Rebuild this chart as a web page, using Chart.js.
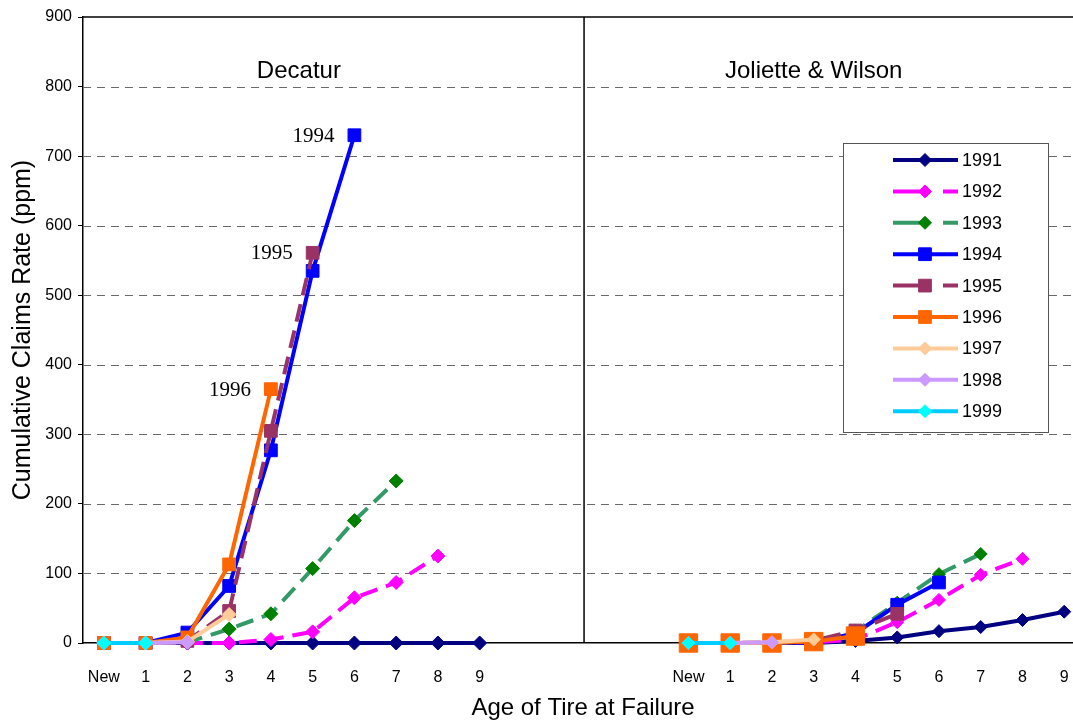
<!DOCTYPE html>
<html>
<head>
<meta charset="utf-8">
<script src="https://cdn.jsdelivr.net/npm/chart.js@4.4.0/dist/chart.umd.min.js"></script>
<style>
  html, body { margin: 0; padding: 0; background: #fff; overflow: hidden; }
  #wrap { width: 1073px; height: 725px; }
</style>
</head>
<body>
<div id="wrap"><canvas id="chart"></canvas></div>
<script>
// ================================
//            DATA
// ================================
const ages = ["New", "1", "2", "3", "4", "5", "6", "7", "8", "9"];
const years = ["1991", "1992", "1993", "1994", "1995", "1996", "1997", "1998", "1999"];
const panels = ["Decatur", "Joliette & Wilson"];
const yTicks = [0, 100, 200, 300, 400, 500, 600, 700, 800, 900];

// Decatur, cumulative claims (ppm) by age
const dec1991 = [0, 0, 0, 0, 0, 0, 0, 0, 0, 0];
const dec1992 = [0, 0, 0, 0, 5, 16, 65, 87, 125];
const dec1993 = [0, 0, 1, 20, 42, 107, 176, 233];
const dec1994 = [0, 0, 15, 82, 277, 535, 730];
const dec1995 = [0, 0, 3, 46, 305, 561];
const dec1996 = [0, 0, 8, 113, 365];
const dec1997 = [0, 0, 2, 41];
const dec1998 = [0, 0, 1];
const dec1999 = [0, 0];

// Joliette & Wilson
const jw1991 = [0, 0, 0, 0, 3, 8, 17, 23, 33, 45];
const jw1992 = [0, 0, 0, 1, 5, 30, 62, 98, 121];
const jw1993 = [0, 0, 0, 2, 17, 58, 99, 128];
const jw1994 = [0, 0, 0, 1, 14, 55, 87];
const jw1995 = [0, 0, 1, 3, 18, 42];
const jw1996 = [0, 0, 0, 2, 10];
const jw1997 = [0, 0, 1, 5];
const jw1998 = [0, 0, 1];
const jw1999 = [0, 0];

const decatur = [dec1991, dec1992, dec1993, dec1994, dec1995, dec1996, dec1997, dec1998, dec1999];
const joliette = [jw1991, jw1992, jw1993, jw1994, jw1995, jw1996, jw1997, jw1998, jw1999];

// ================================
//            STYLES
// ================================
const lineColors = ["#000080", "#FF00FF", "#339966", "#0000FF", "#993366", "#FF6600", "#FFCC99", "#CC99FF", "#00CCFF"];
const markColors = ["#000080", "#FF00FF", "#008000", "#0000FF", "#993366", "#FF6600", "#FFCC99", "#CC99FF", "#00FFFF"];
const shapes = ["rectRot", "rectRot", "rectRot", "rect", "rect", "rect", "rectRot", "rectRot", "rectRot"];
const dashed = [false, true, true, false, true, false, false, false, false];
const DASH = [18, 9];
const panelOffset = 14; // second panel starts 14 slots after the first
const xMax = 23.21;

function markerRadius(i, panel) {
  if (shapes[i] === "rect") return (i === 5 && panel === 1) ? 13 : 9;
  return panel === 1 ? 6.5 : 7;
}

const datasets = years.map((yr, i) => {
  const pts = decatur[i].map((v, j) => ({ x: j, y: v, p: 0 }));
  pts.push({ x: 11.5, y: null, p: 0 });
  joliette[i].forEach((v, j) => pts.push({ x: j + panelOffset, y: v, p: 1 }));
  return {
    label: yr,
    data: pts,
    order: years.length - 1 - i,
    borderColor: lineColors[i],
    borderWidth: 4,
    borderDash: dashed[i] ? DASH : [],
    borderCapStyle: "butt",
    backgroundColor: markColors[i],
    pointStyle: shapes[i],
    pointBackgroundColor: markColors[i],
    pointBorderColor: markColors[i],
    pointBorderWidth: 1,
    pointRadius: (ctx) => markerRadius(i, ctx.raw ? ctx.raw.p : 0),
    clip: false,
    spanGaps: false,
    tension: 0,
  };
});

// ================================
//       DECORATION PLUGIN
// ================================
const decor = {
  id: "decor",
  beforeDatasetsDraw(chart) {
    const { ctx, chartArea: a, scales: { x, y } } = chart;
    ctx.save();
    // dashed gridlines
    ctx.strokeStyle = "#6a6a6a";
    ctx.lineWidth = 1;
    ctx.setLineDash([8, 6]);
    yTicks.slice(1, -1).forEach((v) => {
      const py = Math.round(y.getPixelForValue(v)) + 0.5;
      ctx.beginPath();
      ctx.moveTo(a.left, py);
      ctx.lineTo(a.right, py);
      ctx.stroke();
    });
    ctx.setLineDash([]);
    // top border
    ctx.strokeStyle = "#000";
    ctx.lineWidth = 1.5;
    const top = y.getPixelForValue(900);
    ctx.beginPath();
    ctx.moveTo(a.left, top);
    ctx.lineTo(a.right, top);
    ctx.stroke();
    // panel separator
    const sx = x.getPixelForValue(11.5);
    ctx.beginPath();
    ctx.moveTo(sx, top);
    ctx.lineTo(sx, y.getPixelForValue(0));
    ctx.stroke();
    // panel titles
    ctx.fillStyle = "#000";
    ctx.font = "24px 'Liberation Sans', Arial, sans-serif";
    ctx.textAlign = "center";
    ctx.textBaseline = "middle";
    ctx.fillText(panels[0], x.getPixelForValue(4.67), 71);
    ctx.fillText(panels[1], x.getPixelForValue(17.0), 71);
    ctx.restore();
  },
  afterDatasetsDraw(chart) {
    const { ctx, scales: { x, y } } = chart;
    ctx.save();
    // end labels for 1994, 1995, 1996 in Decatur
    ctx.fillStyle = "#000";
    ctx.font = "21px 'Liberation Serif', 'Times New Roman', serif";
    ctx.textAlign = "right";
    ctx.textBaseline = "middle";
    [3, 4, 5].forEach((i) => {
      const arr = decatur[i];
      const last = arr.length - 1;
      ctx.fillText(years[i], x.getPixelForValue(last) - 20, y.getPixelForValue(arr[last]) + 1);
    });

    // legend box
    const bx = 843, by = 143, bw = 205, bh = 289;
    ctx.fillStyle = "#fff";
    ctx.fillRect(bx, by, bw, bh);
    ctx.strokeStyle = "#555";
    ctx.lineWidth = 1;
    ctx.strokeRect(bx + 0.5, by + 0.5, bw, bh);
    years.forEach((yr, i) => {
      const ry = 160 + i * 31.4;
      ctx.save();
      ctx.strokeStyle = lineColors[i];
      ctx.lineWidth = 4;
      ctx.lineCap = "butt";
      ctx.setLineDash(dashed[i] ? [28, 22] : []);
      ctx.beginPath();
      ctx.moveTo(893, ry);
      ctx.lineTo(958, ry);
      ctx.stroke();
      ctx.restore();
      ctx.save();
      ctx.fillStyle = markColors[i];
      ctx.strokeStyle = markColors[i];
      ctx.lineWidth = 1;
      Chart.helpers.drawPoint(ctx, {
        pointStyle: shapes[i],
        radius: shapes[i] === "rect" ? 9 : 6.5,
        rotation: 0,
        borderWidth: 1,
      }, 925, ry);
      ctx.restore();
      ctx.fillStyle = "#000";
      ctx.font = "18px 'Liberation Sans', Arial, sans-serif";
      ctx.textAlign = "left";
      ctx.textBaseline = "middle";
      ctx.fillText(yr, 962, ry + 1);
    });

    // axis titles
    ctx.fillStyle = "#000";
    ctx.font = "24px 'Liberation Sans', Arial, sans-serif";
    ctx.textAlign = "center";
    ctx.textBaseline = "middle";
    ctx.fillText("Age of Tire at Failure", 583, 708);
    ctx.save();
    ctx.font = "25px 'Liberation Sans', Arial, sans-serif";
    ctx.translate(23, (y.top + y.bottom) / 2);
    ctx.rotate(-Math.PI / 2);
    ctx.fillText("Cumulative Claims Rate (ppm)", 0, 0);
    ctx.restore();
    ctx.restore();
  },
};

// ================================
//            CHART
// ================================
const tickPositions = [];
ages.forEach((a, j) => tickPositions.push(j));
ages.forEach((a, j) => tickPositions.push(j + panelOffset));

new Chart(document.getElementById("chart"), {
  type: "line",
  data: { datasets },
  options: {
    responsive: true,
    maintainAspectRatio: false,
    animation: false,
    devicePixelRatio: 1,
    parsing: { xAxisKey: "x", yAxisKey: "y" },
    layout: { autoPadding: false, padding: { top: 17, right: 0, left: 0, bottom: 0 } },
    plugins: { legend: { display: false }, tooltip: { enabled: false } },
    scales: {
      x: {
        type: "linear",
        min: -0.5,
        max: xMax,
        afterBuildTicks: (axis) => {
          axis.ticks = tickPositions.map((v) => ({ value: v }));
        },
        afterFit: (axis) => {
          axis.height = 82;
          axis.paddingLeft = 0;
          axis.paddingRight = 0;
        },
        ticks: {
          autoSkip: false,
          maxRotation: 0,
          padding: 17,
          color: "#000",
          font: { family: "'Liberation Sans', Arial, sans-serif", size: 16 },
          callback: (v) => (v >= panelOffset ? ages[v - panelOffset] : ages[v]),
        },
        grid: { display: false },
        border: { display: true, color: "#000", width: 1.5 },
      },
      y: {
        min: 0,
        max: 900,
        afterBuildTicks: (axis) => {
          axis.ticks = yTicks.map((v) => ({ value: v }));
        },
        afterFit: (axis) => {
          axis.width = 83;
          axis.paddingTop = 0;
          axis.paddingBottom = 0;
        },
        ticks: {
          padding: 6,
          color: "#000",
          font: { family: "'Liberation Sans', Arial, sans-serif", size: 16 },
        },
        grid: { display: true, drawOnChartArea: false, tickLength: 5, color: "#000" },
        border: { display: true, color: "#000", width: 1.5 },
      },
    },
  },
  plugins: [decor],
});
</script>
</body>
</html>
